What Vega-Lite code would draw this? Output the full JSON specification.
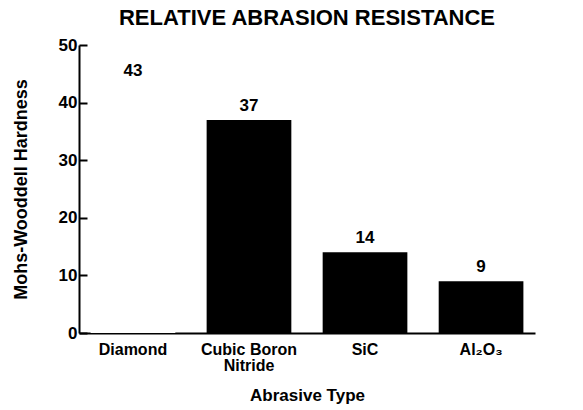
{
  "$schema": "https://vega.github.io/schema/vega-lite/v6.json",
  "autosize": {"type": "none"},
  "padding": {"left": 79, "top": 45, "right": 48, "bottom": 77},
  "width": 456,
  "height": 288,
  "background": "white",
  "title": {
    "text": "RELATIVE ABRASION RESISTANCE",
    "font": "Liberation Sans",
    "fontWeight": "bold",
    "fontSize": 22,
    "color": "black",
    "anchor": "middle",
    "offset": 6
  },
  "data": {
    "values": [
      {"Abrasive": "Diamond", "Hardness": 43},
      {"Abrasive": "Cubic Boron Nitride", "Hardness": 37},
      {"Abrasive": "SiC", "Hardness": 14},
      {"Abrasive": "Al₂O₃", "Hardness": 9}
    ]
  },
  "encoding": {
    "x": {
      "field": "Abrasive",
      "type": "nominal",
      "sort": null,
      "scale": {"paddingInner": 0.27, "paddingOuter": 0.1},
      "axis": {
        "title": "Abrasive Type",
        "titleFont": "Liberation Sans",
        "titleFontWeight": "bold",
        "titleFontSize": 17,
        "titleColor": "black",
        "titlePadding": 14,
        "labelAngle": 0,
        "labelFont": "Liberation Sans",
        "labelFontWeight": "bold",
        "labelFontSize": 16,
        "labelColor": "black",
        "labelPadding": 8,
        "labelLineHeight": 16,
        "labelExpr": "datum.label == 'Cubic Boron Nitride' ? ['Cubic Boron', 'Nitride'] : datum.label",
        "ticks": false,
        "domainColor": "black",
        "domainWidth": 2
      }
    },
    "y": {
      "field": "Hardness",
      "type": "quantitative",
      "scale": {"domain": [0, 50]},
      "axis": {
        "title": "Mohs-Wooddell Hardness",
        "titleFont": "Liberation Sans",
        "titleFontWeight": "bold",
        "titleFontSize": 18,
        "titleColor": "black",
        "titlePadding": 28,
        "values": [0, 10, 20, 30, 40, 50],
        "labelFont": "Liberation Sans",
        "labelFontWeight": "bold",
        "labelFontSize": 17,
        "labelColor": "black",
        "labelPadding": 10,
        "tickSize": -8,
        "tickColor": "black",
        "tickWidth": 2,
        "domainColor": "black",
        "domainWidth": 2,
        "grid": false
      }
    }
  },
  "layer": [
    {
      "mark": {"type": "bar"},
      "encoding": {
        "color": {
          "condition": {"test": "datum.Abrasive === 'Diamond'", "value": "white"},
          "value": "black"
        }
      }
    },
    {
      "mark": {
        "type": "text",
        "dy": -14,
        "font": "Liberation Sans",
        "fontWeight": "bold",
        "fontSize": 17,
        "color": "black"
      },
      "encoding": {"text": {"field": "Hardness", "type": "quantitative"}}
    }
  ],
  "config": {"view": {"stroke": null}}
}
